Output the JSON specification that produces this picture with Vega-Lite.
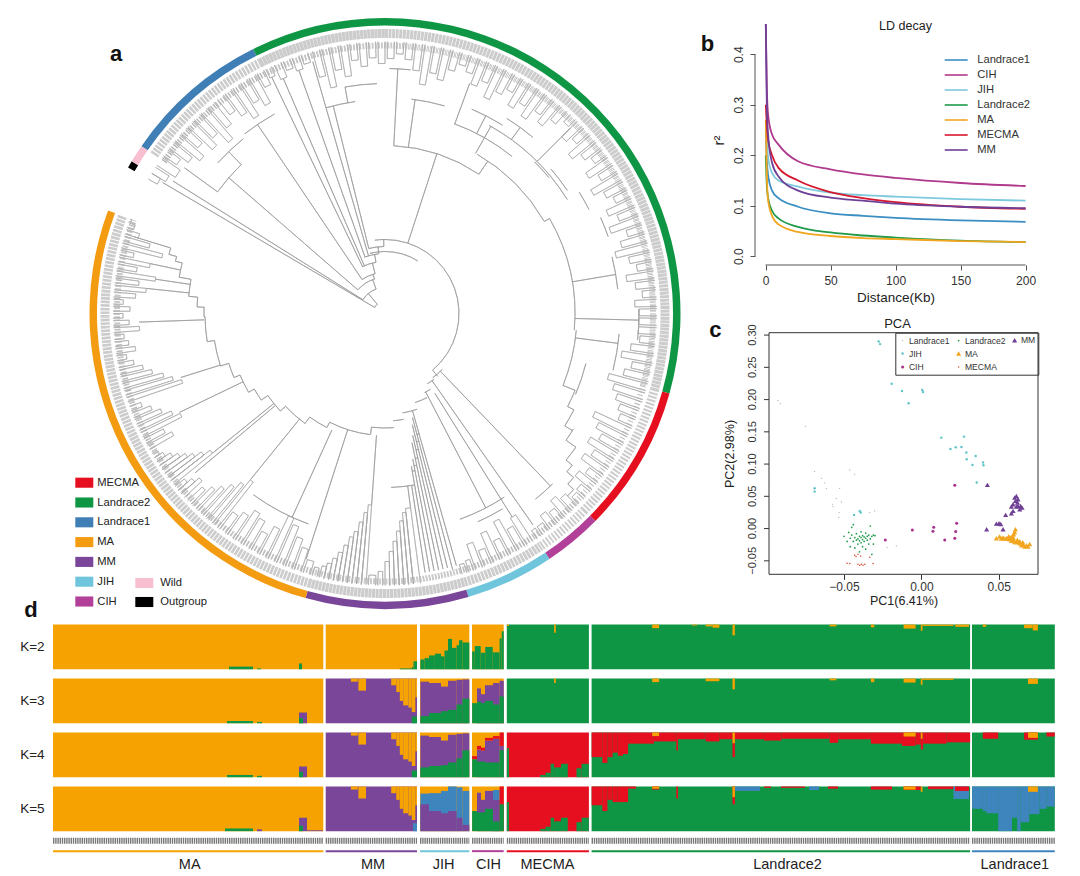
{"$schema":"https://vega.github.io/schema/vega-lite/v6.json","background":"white","padding":{"left":20,"top":15,"right":0,"bottom":0},"config":{"view":{"stroke":null},"font":"Liberation Sans"},
"datasets":{
"ring1":[{"a":304.5,"b":333.5,"g":"Landrace1"},{"a":333.5,"b":360,"g":"Landrace2"},{"a":0,"b":105.7,"g":"Landrace2"},{"a":105.7,"b":134.6,"g":"MECMA"},{"a":134.6,"b":146.2,"g":"CIH"},{"a":146.2,"b":163.6,"g":"JIH"},{"a":163.6,"b":195.6,"g":"MM"},{"a":195.6,"b":290.4,"g":"MA"}],
"ring2":[{"a":299.6,"b":301,"g":"Outgroup"},{"a":301,"b":304.5,"g":"Wild"}],
"pcaTicks":[{"v":-0.05,"t":"−0.05"},{"v":0,"t":"0.00"},{"v":0.05,"t":"0.05"},{"v":0.1,"t":"0.10"},{"v":0.15,"t":"0.15"},{"v":0.2,"t":"0.20"},{"v":0.25,"t":"0.25"},{"v":0.3,"t":"0.30"}],
"arcs":[{"a":300,"b":320,"r":12},{"a":302,"b":340,"r":26},{"a":311,"b":343,"r":36},{"a":326,"b":346,"r":41},{"a":334,"b":350,"r":52},{"a":340,"b":354,"r":60},{"a":346,"b":359,"r":67},{"a":352,"b":360,"r":74},{"a":0,"b":140,"r":74},{"a":346,"b":360,"r":62},{"a":0,"b":32,"r":62},{"a":3,"b":34,"r":168},{"a":30,"b":60,"r":184},{"a":20,"b":39,"r":202},{"a":29,"b":58,"r":215},{"a":60,"b":95,"r":190},{"a":95,"b":112,"r":192},{"a":112,"b":117,"r":205},{"a":117,"b":122,"r":212},{"a":121.5,"b":125,"r":221},{"a":125,"b":129,"r":233},{"a":129,"b":131,"r":241},{"a":131,"b":133,"r":250},{"a":133,"b":135,"r":258},{"a":104,"b":113,"r":207},{"a":76,"b":84,"r":234},{"a":66,"b":71,"r":236},{"a":58,"b":63,"r":229},{"a":49,"b":56,"r":220},{"a":44.6,"b":50.4,"r":213},{"a":89,"b":96,"r":254},{"a":95,"b":104,"r":235},{"a":306,"b":316,"r":207},{"a":312,"b":321,"r":225},{"a":322,"b":331,"r":228},{"a":344,"b":352,"r":214},{"a":350,"b":358,"r":230},{"a":1,"b":6,"r":245},{"a":7,"b":16,"r":216},{"a":23,"b":32,"r":222},{"a":32,"b":40,"r":230},{"a":135.5,"b":141,"r":239},{"a":147,"b":160,"r":219},{"a":149,"b":156,"r":228},{"a":134.3,"b":143.4,"r":80},{"a":143.4,"b":149,"r":82},{"a":149,"b":153.4,"r":88.4},{"a":153.4,"b":161.4,"r":94},{"a":161.4,"b":170,"r":101},{"a":170,"b":175.6,"r":107.5},{"a":175.6,"b":186.8,"r":114.5},{"a":164.2,"b":165.2,"r":125},{"a":165.2,"b":166.2,"r":132},{"a":166.2,"b":167.2,"r":140},{"a":167.2,"b":168.2,"r":148},{"a":168.2,"b":169.2,"r":155},{"a":169.2,"b":170.2,"r":160},{"a":170.2,"b":178,"r":174},{"a":187,"b":207,"r":122},{"a":207,"b":216,"r":128},{"a":216,"b":227,"r":136},{"a":227,"b":235,"r":143},{"a":235,"b":240,"r":151},{"a":240,"b":247,"r":157.5},{"a":247,"b":252.3,"r":164},{"a":252.3,"b":261,"r":172.7},{"a":261,"b":269,"r":180},{"a":269,"b":272,"r":181},{"a":272,"b":275,"r":188},{"a":275,"b":280,"r":197},{"a":280,"b":284,"r":209},{"a":284,"b":285.3,"r":216},{"a":285.3,"b":287,"r":224},{"a":200,"b":216,"r":224}],
"stems":[{"a":300.5,"r":12,"q":258},{"a":302,"r":26,"q":250},{"a":311,"r":36,"q":207},{"a":326,"r":41,"q":228},{"a":334.4,"r":52,"q":262},{"a":336.6,"r":52,"q":256},{"a":340.5,"r":60,"q":258},{"a":344,"r":60,"q":262},{"a":346,"r":67,"q":214},{"a":320,"r":12,"q":26},{"a":340,"r":26,"q":36},{"a":343,"r":36,"q":41},{"a":346,"r":41,"q":52},{"a":350,"r":52,"q":60},{"a":354,"r":60,"q":67},{"a":359,"r":67,"q":74},{"a":316,"r":207,"q":225},{"a":306,"r":207,"q":248},{"a":350,"r":214,"q":230},{"a":18,"r":74,"q":168},{"a":3,"r":168,"q":245},{"a":8,"r":168,"q":216},{"a":34,"r":168,"q":184},{"a":29.5,"r":184,"q":215},{"a":20.2,"r":202,"q":245},{"a":27,"r":202,"q":222},{"a":36,"r":215,"q":230},{"a":45,"r":215,"q":262},{"a":60,"r":184,"q":190},{"a":80.4,"r":190,"q":234},{"a":91.5,"r":190,"q":254},{"a":97.3,"r":192,"q":235},{"a":112,"r":192,"q":205},{"a":117,"r":205,"q":212},{"a":122,"r":212,"q":221},{"a":125,"r":221,"q":233},{"a":129,"r":233,"q":241},{"a":131,"r":241,"q":250},{"a":133,"r":250,"q":258},{"a":140,"r":74,"q":82},{"a":136.2,"r":80,"q":239},{"a":145,"r":82,"q":258},{"a":152.6,"r":88.4,"q":219},{"a":148,"r":94,"q":240},{"a":164.2,"r":101,"q":262},{"a":165.2,"r":107.5,"q":265},{"a":166.2,"r":114.5,"q":262},{"a":167.2,"r":125,"q":262},{"a":168.2,"r":132,"q":262},{"a":169.2,"r":148,"q":262},{"a":170.2,"r":155,"q":262},{"a":171.2,"r":174,"q":262},{"a":186.8,"r":114.5,"q":122},{"a":184,"r":122,"q":192},{"a":172.5,"r":174,"q":196},{"a":207,"r":122,"q":128},{"a":216,"r":128,"q":136},{"a":227,"r":136,"q":143},{"a":235,"r":143,"q":151},{"a":240,"r":151,"q":157.5},{"a":247,"r":157.5,"q":164},{"a":252.3,"r":164,"q":172.7},{"a":261,"r":172.7,"q":180},{"a":269,"r":180,"q":181},{"a":272,"r":181,"q":188},{"a":275,"r":188,"q":197},{"a":280,"r":197,"q":209},{"a":284,"r":209,"q":216},{"a":285.3,"r":216,"q":224},{"a":287,"r":224,"q":262},{"a":197.8,"r":122,"q":258},{"a":204.5,"r":128,"q":224},{"a":219,"r":136,"q":214},{"a":230,"r":143,"q":248},{"a":231,"r":143,"q":222},{"a":244.3,"r":157.5,"q":228},{"a":252.6,"r":172.7,"q":214},{"a":268,"r":181,"q":246},{"a":276,"r":197,"q":240},{"a":278.5,"r":197,"q":232},{"a":282,"r":209,"q":240}],
"forks":[{"a":299.6,"b":301,"r":262},{"a":301,"b":302.5,"r":256},{"a":303,"b":305,"r":250},{"a":305.5,"b":307,"r":256},{"a":307.5,"b":309,"r":248},{"a":309.5,"b":311,"r":240},{"a":311.5,"b":313,"r":250},{"a":313.5,"b":315,"r":238},{"a":315.5,"b":317,"r":246},{"a":317.5,"b":319,"r":232},{"a":319.5,"b":321,"r":244},{"a":322,"b":323.5,"r":252},{"a":324,"b":325.5,"r":244},{"a":326,"b":327.5,"r":235},{"a":328,"b":329.5,"r":248},{"a":330,"b":331.5,"r":240},{"a":332,"b":333.5,"r":256},{"a":334,"b":335.2,"r":262},{"a":336,"b":337.5,"r":256},{"a":338,"b":339.5,"r":262},{"a":340,"b":341.5,"r":258},{"a":342,"b":343.5,"r":262},{"a":344.5,"b":346,"r":245},{"a":346.5,"b":348,"r":232},{"a":348.5,"b":350,"r":248},{"a":350.5,"b":352,"r":240},{"a":352.5,"b":354,"r":255},{"a":354.5,"b":356,"r":248},{"a":356.5,"b":358,"r":256},{"a":358.5,"b":360,"r":250},{"a":0.5,"b":2,"r":255},{"a":2.5,"b":4,"r":260},{"a":4.5,"b":6,"r":255},{"a":6.5,"b":8,"r":245},{"a":8.5,"b":10,"r":232},{"a":10.5,"b":12,"r":245},{"a":12.5,"b":14,"r":240},{"a":14.5,"b":16,"r":252},{"a":16.5,"b":18,"r":260},{"a":18.5,"b":20,"r":255},{"a":20.5,"b":22,"r":245},{"a":22.5,"b":24,"r":252},{"a":24.5,"b":26,"r":238},{"a":26.5,"b":28,"r":248},{"a":28.5,"b":30,"r":255},{"a":30.5,"b":32,"r":242},{"a":32.5,"b":34,"r":250},{"a":34.5,"b":36,"r":240},{"a":36.5,"b":38,"r":252},{"a":38.5,"b":40,"r":245},{"a":40.5,"b":42,"r":255},{"a":43,"b":44.5,"r":262},{"a":45,"b":46.5,"r":250},{"a":47,"b":48.5,"r":256},{"a":49,"b":50.5,"r":243},{"a":51,"b":52.5,"r":252},{"a":53,"b":54.5,"r":258},{"a":55,"b":56.5,"r":245},{"a":57,"b":58.5,"r":254},{"a":59,"b":60.5,"r":240},{"a":61,"b":62.5,"r":250},{"a":63,"b":64.5,"r":256},{"a":65,"b":66.5,"r":244},{"a":67,"b":68.5,"r":252},{"a":69,"b":70.5,"r":240},{"a":71,"b":72.5,"r":255},{"a":73,"b":74.5,"r":246},{"a":75,"b":76.5,"r":238},{"a":77,"b":78.5,"r":250},{"a":79,"b":80.5,"r":256},{"a":81,"b":82.5,"r":244},{"a":83,"b":84.5,"r":252},{"a":85,"b":86.5,"r":258},{"a":87,"b":88.5,"r":250},{"a":89,"b":90.5,"r":254},{"a":91,"b":92.5,"r":254},{"a":93,"b":94.5,"r":254},{"a":95,"b":96.5,"r":256},{"a":97,"b":98.5,"r":248},{"a":99,"b":100.5,"r":240},{"a":101,"b":102.5,"r":252},{"a":103,"b":104.5,"r":246},{"a":105,"b":106.5,"r":232},{"a":107,"b":108.5,"r":240},{"a":109,"b":110.5,"r":246},{"a":111,"b":112.5,"r":252},{"a":113,"b":114.5,"r":256},{"a":115,"b":116.5,"r":232},{"a":117,"b":118.5,"r":240},{"a":119,"b":120.5,"r":248},{"a":121,"b":122.5,"r":240},{"a":123,"b":124.5,"r":250},{"a":125,"b":126.5,"r":244},{"a":127,"b":128.5,"r":256},{"a":129,"b":130.5,"r":250},{"a":131,"b":132.5,"r":260},{"a":133,"b":134.5,"r":262},{"a":135,"b":136.5,"r":255},{"a":137,"b":138.5,"r":250},{"a":139,"b":140.5,"r":258},{"a":141,"b":142.5,"r":255},{"a":143,"b":144.5,"r":262},{"a":145,"b":146,"r":262},{"a":147,"b":148.5,"r":240},{"a":149,"b":150.5,"r":248},{"a":151,"b":152.5,"r":235},{"a":153,"b":154.5,"r":252},{"a":155,"b":156.5,"r":240},{"a":157,"b":158.5,"r":255},{"a":159,"b":160.5,"r":245},{"a":161,"b":162,"r":260},{"a":162.5,"b":163.5,"r":262},{"a":172.5,"b":174,"r":196},{"a":174,"b":175,"r":200},{"a":175,"b":176,"r":208},{"a":176,"b":177,"r":218},{"a":177,"b":178,"r":228},{"a":178,"b":179,"r":238},{"a":179,"b":180,"r":248},{"a":180.5,"b":181.5,"r":258},{"a":182,"b":183.5,"r":262},{"a":184,"b":185,"r":192},{"a":185,"b":186,"r":200},{"a":186,"b":187,"r":210},{"a":187,"b":188,"r":220},{"a":188,"b":189,"r":226},{"a":189,"b":190,"r":235},{"a":190,"b":191,"r":243},{"a":191,"b":192,"r":250},{"a":192,"b":193,"r":256},{"a":193,"b":194,"r":260},{"a":194.5,"b":195.5,"r":263},{"a":196,"b":197.5,"r":258},{"a":198,"b":199.5,"r":248},{"a":200,"b":201.5,"r":240},{"a":202,"b":203.5,"r":230},{"a":204,"b":205.5,"r":224},{"a":206,"b":207.5,"r":240},{"a":208,"b":209.5,"r":250},{"a":210,"b":211.5,"r":240},{"a":212,"b":213.5,"r":236},{"a":214,"b":215.5,"r":244},{"a":216,"b":217.5,"r":250},{"a":218,"b":219,"r":214},{"a":219.5,"b":220.5,"r":222},{"a":221,"b":222,"r":230},{"a":222.5,"b":223.5,"r":238},{"a":224,"b":225,"r":245},{"a":225.5,"b":226.5,"r":252},{"a":227.5,"b":228.5,"r":248},{"a":228.5,"b":229.5,"r":254},{"a":229.5,"b":230.5,"r":260},{"a":231,"b":232,"r":222},{"a":232,"b":233,"r":230},{"a":233,"b":234,"r":238},{"a":234,"b":235,"r":244},{"a":235,"b":236,"r":250},{"a":236,"b":237,"r":256},{"a":237,"b":238,"r":262},{"a":238,"b":239,"r":266},{"a":240,"b":241,"r":244},{"a":241.5,"b":242.5,"r":250},{"a":243,"b":244,"r":228},{"a":244.5,"b":245.5,"r":235},{"a":246,"b":247,"r":244},{"a":247.5,"b":248.5,"r":252},{"a":249,"b":250,"r":260},{"a":251,"b":252,"r":214},{"a":252.5,"b":253.5,"r":222},{"a":254,"b":255,"r":230},{"a":255.5,"b":256.5,"r":240},{"a":257,"b":258,"r":248},{"a":258.5,"b":259.5,"r":256},{"a":260,"b":261,"r":262},{"a":261.5,"b":262.5,"r":252},{"a":263,"b":264,"r":258},{"a":264.5,"b":265.5,"r":262},{"a":266,"b":267,"r":246},{"a":267.5,"b":268.5,"r":256},{"a":269,"b":270,"r":262},{"a":270.5,"b":271.5,"r":255},{"a":272,"b":273,"r":262},{"a":273.5,"b":274.5,"r":250},{"a":275,"b":276,"r":240},{"a":276.5,"b":277.5,"r":248},{"a":278,"b":279,"r":232},{"a":279.5,"b":280.5,"r":252},{"a":281,"b":282,"r":240},{"a":282.5,"b":283.5,"r":258},{"a":284,"b":285,"r":230},{"a":285.5,"b":286.5,"r":245},{"a":287,"b":288,"r":258},{"a":288.5,"b":289.5,"r":265},{"a":289.8,"b":290.3,"r":270}],
"ld":[{"g":"Landrace1","x":0.2,"y":0.25},{"g":"Landrace1","x":1,"y":0.19},{"g":"Landrace1","x":2,"y":0.16},{"g":"Landrace1","x":5,"y":0.13},{"g":"Landrace1","x":10,"y":0.115},{"g":"Landrace1","x":25,"y":0.098},{"g":"Landrace1","x":50,"y":0.085},{"g":"Landrace1","x":75,"y":0.08},{"g":"Landrace1","x":100,"y":0.076},{"g":"Landrace1","x":150,"y":0.071},{"g":"Landrace1","x":200,"y":0.068},{"g":"CIH","x":0.2,"y":0.46},{"g":"CIH","x":1,"y":0.33},{"g":"CIH","x":2,"y":0.28},{"g":"CIH","x":5,"y":0.241},{"g":"CIH","x":10,"y":0.221},{"g":"CIH","x":25,"y":0.188},{"g":"CIH","x":50,"y":0.172},{"g":"CIH","x":75,"y":0.162},{"g":"CIH","x":100,"y":0.155},{"g":"CIH","x":150,"y":0.145},{"g":"CIH","x":200,"y":0.139},{"g":"JIH","x":0.2,"y":0.27},{"g":"JIH","x":1,"y":0.23},{"g":"JIH","x":2,"y":0.195},{"g":"JIH","x":5,"y":0.165},{"g":"JIH","x":10,"y":0.15},{"g":"JIH","x":25,"y":0.138},{"g":"JIH","x":50,"y":0.126},{"g":"JIH","x":75,"y":0.121},{"g":"JIH","x":100,"y":0.118},{"g":"JIH","x":150,"y":0.113},{"g":"JIH","x":200,"y":0.11},{"g":"Landrace2","x":0.2,"y":0.2},{"g":"Landrace2","x":1,"y":0.14},{"g":"Landrace2","x":2,"y":0.115},{"g":"Landrace2","x":5,"y":0.09},{"g":"Landrace2","x":10,"y":0.075},{"g":"Landrace2","x":25,"y":0.058},{"g":"Landrace2","x":50,"y":0.047},{"g":"Landrace2","x":75,"y":0.041},{"g":"Landrace2","x":100,"y":0.037},{"g":"Landrace2","x":150,"y":0.031},{"g":"Landrace2","x":200,"y":0.028},{"g":"MA","x":0.2,"y":0.27},{"g":"MA","x":1,"y":0.16},{"g":"MA","x":2,"y":0.11},{"g":"MA","x":5,"y":0.08},{"g":"MA","x":10,"y":0.063},{"g":"MA","x":25,"y":0.048},{"g":"MA","x":50,"y":0.04},{"g":"MA","x":75,"y":0.036},{"g":"MA","x":100,"y":0.034},{"g":"MA","x":150,"y":0.03},{"g":"MA","x":200,"y":0.028},{"g":"MECMA","x":0.2,"y":0.3},{"g":"MECMA","x":1,"y":0.26},{"g":"MECMA","x":2,"y":0.23},{"g":"MECMA","x":5,"y":0.2},{"g":"MECMA","x":10,"y":0.175},{"g":"MECMA","x":25,"y":0.15},{"g":"MECMA","x":50,"y":0.127},{"g":"MECMA","x":75,"y":0.115},{"g":"MECMA","x":100,"y":0.107},{"g":"MECMA","x":150,"y":0.098},{"g":"MECMA","x":200,"y":0.094},{"g":"MM","x":0.2,"y":0.46},{"g":"MM","x":1,"y":0.3},{"g":"MM","x":2,"y":0.24},{"g":"MM","x":5,"y":0.185},{"g":"MM","x":10,"y":0.158},{"g":"MM","x":25,"y":0.13},{"g":"MM","x":50,"y":0.116},{"g":"MM","x":75,"y":0.11},{"g":"MM","x":100,"y":0.104},{"g":"MM","x":150,"y":0.098},{"g":"MM","x":200,"y":0.095}],
"pca":[{"g":"JIH","x":-0.0276,"y":0.29},{"g":"JIH","x":-0.0267,"y":0.286},{"g":"JIH","x":-0.0192,"y":0.2247},{"g":"JIH","x":-0.0125,"y":0.2133},{"g":"JIH","x":-0.0082,"y":0.1942},{"g":"JIH","x":0.0006,"y":0.2149},{"g":"JIH","x":0.0011,"y":0.2118},{"g":"JIH","x":0.0129,"y":0.141},{"g":"JIH","x":0.0188,"y":0.1235},{"g":"JIH","x":0.0222,"y":0.126},{"g":"JIH","x":0.0259,"y":0.1266},{"g":"JIH","x":0.0276,"y":0.1426},{"g":"JIH","x":0.0291,"y":0.1178},{"g":"JIH","x":0.0293,"y":0.1074},{"g":"JIH","x":0.033,"y":0.0987},{"g":"JIH","x":0.0351,"y":0.1126},{"g":"JIH","x":0.0399,"y":0.1023},{"g":"JIH","x":0.0401,"y":0.0981},{"g":"JIH","x":0.0358,"y":0.0713},{"g":"JIH","x":-0.069,"y":0.0625},{"g":"JIH","x":-0.069,"y":0.0573},{"g":"JIH","x":-0.0399,"y":0.0274},{"g":"JIH","x":-0.0392,"y":0.0248},{"g":"JIH","x":-0.0435,"y":0.0212},
{"g":"CIH","x":0.0216,"y":0.0671},{"g":"CIH","x":0.0228,"y":0.0083},{"g":"CIH","x":0.0222,"y":-0.0046},{"g":"CIH","x":0.0216,"y":-0.015},{"g":"CIH","x":0.0151,"y":-0.0176},{"g":"CIH","x":0.008,"y":0.0021},{"g":"CIH","x":0.0075,"y":-0.0041},{"g":"CIH","x":-0.0058,"y":-0.0021},{"g":"CIH","x":-0.0233,"y":-0.0176},
{"g":"Landrace1","x":-0.0927,"y":0.1983},{"g":"Landrace1","x":-0.0912,"y":0.1937},{"g":"Landrace1","x":-0.075,"y":0.1586},{"g":"Landrace1","x":-0.069,"y":0.0883},{"g":"Landrace1","x":-0.0647,"y":0.078},{"g":"Landrace1","x":-0.0625,"y":0.071},{"g":"Landrace1","x":-0.0614,"y":0.062},{"g":"Landrace1","x":-0.0528,"y":0.0625},{"g":"Landrace1","x":-0.0463,"y":0.0909},{"g":"Landrace1","x":-0.0431,"y":0.0842},{"g":"Landrace1","x":-0.055,"y":0.0465},{"g":"Landrace1","x":-0.0575,"y":0.0377},{"g":"Landrace1","x":-0.0571,"y":0.0341},{"g":"Landrace1","x":-0.0517,"y":0.0413},{"g":"Landrace1","x":-0.0532,"y":0.0248},{"g":"Landrace1","x":-0.0534,"y":0.017},{"g":"Landrace1","x":-0.0334,"y":0.0248},{"g":"Landrace1","x":-0.0302,"y":0.0274},{"g":"Landrace1","x":-0.0222,"y":-0.0294},{"g":"Landrace1","x":-0.0162,"y":-0.0269},
{"g":"Landrace2","x":-0.05,"y":-0.012},{"g":"Landrace2","x":-0.048,"y":-0.02},{"g":"Landrace2","x":-0.047,"y":-0.006},{"g":"Landrace2","x":-0.046,"y":-0.028},{"g":"Landrace2","x":-0.046,"y":-0.015},{"g":"Landrace2","x":-0.045,"y":0.002},{"g":"Landrace2","x":-0.045,"y":-0.01},{"g":"Landrace2","x":-0.044,"y":-0.02},{"g":"Landrace2","x":-0.044,"y":0.006},{"g":"Landrace2","x":-0.043,"y":-0.014},{"g":"Landrace2","x":-0.043,"y":-0.03},{"g":"Landrace2","x":-0.042,"y":-0.018},{"g":"Landrace2","x":-0.042,"y":-0.008},{"g":"Landrace2","x":-0.041,"y":-0.016},{"g":"Landrace2","x":-0.041,"y":-0.024},{"g":"Landrace2","x":-0.04,"y":-0.012},{"g":"Landrace2","x":-0.04,"y":-0.019},{"g":"Landrace2","x":-0.04,"y":-0.036},{"g":"Landrace2","x":-0.039,"y":-0.014},{"g":"Landrace2","x":-0.039,"y":-0.022},{"g":"Landrace2","x":-0.039,"y":-0.005},{"g":"Landrace2","x":-0.038,"y":-0.017},{"g":"Landrace2","x":-0.038,"y":-0.011},{"g":"Landrace2","x":-0.038,"y":-0.028},{"g":"Landrace2","x":-0.037,"y":-0.013},{"g":"Landrace2","x":-0.037,"y":-0.02},{"g":"Landrace2","x":-0.036,"y":-0.015},{"g":"Landrace2","x":-0.036,"y":-0.007},{"g":"Landrace2","x":-0.036,"y":-0.032},{"g":"Landrace2","x":-0.035,"y":-0.018},{"g":"Landrace2","x":-0.035,"y":-0.012},{"g":"Landrace2","x":-0.034,"y":-0.024},{"g":"Landrace2","x":-0.034,"y":-0.01},{"g":"Landrace2","x":-0.033,"y":-0.016},{"g":"Landrace2","x":-0.033,"y":0.004},{"g":"Landrace2","x":-0.032,"y":-0.012},{"g":"Landrace2","x":-0.032,"y":-0.04},{"g":"Landrace2","x":-0.031,"y":-0.01},{"g":"Landrace2","x":-0.031,"y":-0.024},{"g":"Landrace2","x":-0.03,"y":-0.011},
{"g":"MA","x":0.0485,"y":-0.015},{"g":"MA","x":0.0506,"y":-0.0124},{"g":"MA","x":0.0528,"y":-0.0139},{"g":"MA","x":0.055,"y":-0.015},{"g":"MA","x":0.0571,"y":-0.0165},{"g":"MA","x":0.0593,"y":-0.0176},{"g":"MA","x":0.0614,"y":-0.0207},{"g":"MA","x":0.0636,"y":-0.0227},{"g":"MA","x":0.0657,"y":-0.0243},{"g":"MA","x":0.0679,"y":-0.0258},{"g":"MA","x":0.07,"y":-0.0238},{"g":"MA","x":0.069,"y":-0.0279},{"g":"MA","x":0.0668,"y":-0.0279},{"g":"MA","x":0.0647,"y":-0.0258},{"g":"MA","x":0.0625,"y":-0.0207},{"g":"MA","x":0.0603,"y":-0.0207},{"g":"MA","x":0.0582,"y":-0.0191},{"g":"MA","x":0.056,"y":-0.0155},{"g":"MA","x":0.0539,"y":-0.0155},{"g":"MA","x":0.0517,"y":-0.0155},{"g":"MA","x":0.0608,"y":-0.001},{"g":"MA","x":0.0603,"y":-0.0052},{"g":"MA","x":0.0597,"y":-0.0088},{"g":"MA","x":0.0588,"y":-0.0114},{"g":"MA","x":0.0578,"y":-0.0139},{"g":"MA","x":0.062,"y":-0.0175},{"g":"MA","x":0.0655,"y":-0.021},{"g":"MA","x":0.0565,"y":-0.012},{"g":"MA","x":0.0635,"y":-0.0195},{"g":"MA","x":0.0595,"y":-0.0145},
{"g":"MECMA","x":-0.048,"y":-0.0537},{"g":"MECMA","x":-0.0463,"y":-0.0542},{"g":"MECMA","x":-0.041,"y":-0.0553},{"g":"MECMA","x":-0.0399,"y":-0.0568},{"g":"MECMA","x":-0.0388,"y":-0.0553},{"g":"MECMA","x":-0.0377,"y":-0.0568},{"g":"MECMA","x":-0.0366,"y":-0.0553},{"g":"MECMA","x":-0.0312,"y":-0.0542},{"g":"MECMA","x":-0.0431,"y":-0.0413},{"g":"MECMA","x":-0.041,"y":-0.0398},{"g":"MECMA","x":-0.0392,"y":-0.0424},{"g":"MECMA","x":-0.0422,"y":-0.0434},{"g":"MECMA","x":-0.0334,"y":-0.0444},
{"g":"MM","x":0.0427,"y":0.0677},{"g":"MM","x":0.0422,"y":-0.001},{"g":"MM","x":0.0485,"y":0.0077},{"g":"MM","x":0.0502,"y":0.0082},{"g":"MM","x":0.0513,"y":0.0072},{"g":"MM","x":0.0528,"y":-0.001},{"g":"MM","x":0.0545,"y":0.0212},{"g":"MM","x":0.0582,"y":0.0238},{"g":"MM","x":0.0593,"y":0.0274},{"g":"MM","x":0.0603,"y":0.048},{"g":"MM","x":0.0614,"y":0.0506},{"g":"MM","x":0.0608,"y":0.0429},{"g":"MM","x":0.0593,"y":0.0377},{"g":"MM","x":0.0582,"y":0.0341},{"g":"MM","x":0.0614,"y":0.0341},{"g":"MM","x":0.0625,"y":0.0351},{"g":"MM","x":0.0642,"y":0.0351},{"g":"MM","x":0.0651,"y":0.0325},{"g":"MM","x":0.0636,"y":0.03},{"g":"MM","x":0.0621,"y":0.0403},{"g":"MM","x":0.0625,"y":0.0455}],
"bars":[{"k":"K=2","s":0,"e":270.3,"c":"MA","l":0,"h":1},{"k":"K=2","s":272.7,"e":364,"c":"MA","l":0,"h":1},{"k":"K=2","s":367,"e":416.3,"c":"MA","l":0,"h":1},{"k":"K=2","s":419,"e":450.7,"c":"MA","l":0,"h":1},{"k":"K=2","s":453.8,"e":535.9,"c":"L2","l":0,"h":1},{"k":"K=2","s":538.6,"e":917.1,"c":"L2","l":0,"h":1},{"k":"K=2","s":919,"e":1001.8,"c":"L2","l":0,"h":1},
{"k":"K=2","s":176,"e":200,"c":"L2","l":0,"h":0.06},{"k":"K=2","s":204,"e":208,"c":"L2","l":0,"h":0.02},{"k":"K=2","s":246,"e":249,"c":"L2","l":0,"h":0.13},{"k":"K=2","s":346.8,"e":358.8,"c":"L2","l":0,"h":0.02},{"k":"K=2","s":358.8,"e":360.5,"c":"L2","l":0,"h":0.05},{"k":"K=2","s":360.5,"e":364,"c":"L2","l":0,"h":0.18},
{"k":"K=2","s":367.4,"e":371.6,"c":"L2","l":0,"h":0.22},{"k":"K=2","s":371.6,"e":376,"c":"L2","l":0,"h":0.25},{"k":"K=2","s":376,"e":381.9,"c":"L2","l":0,"h":0.31},{"k":"K=2","s":381.9,"e":388,"c":"L2","l":0,"h":0.35},{"k":"K=2","s":388,"e":391.5,"c":"L2","l":0,"h":0.29},{"k":"K=2","s":391.5,"e":395,"c":"L2","l":0,"h":0.42},{"k":"K=2","s":395,"e":399,"c":"L2","l":0,"h":0.68},{"k":"K=2","s":399,"e":403.6,"c":"L2","l":0,"h":0.48},{"k":"K=2","s":403.6,"e":406,"c":"L2","l":0,"h":0.54},{"k":"K=2","s":406,"e":409.4,"c":"L2","l":0,"h":0.65},{"k":"K=2","s":409.4,"e":416.3,"c":"L2","l":0,"h":0.6},
{"k":"K=2","s":419.1,"e":421.8,"c":"L2","l":0,"h":0.4},{"k":"K=2","s":421.8,"e":427.7,"c":"L2","l":0,"h":0.52},{"k":"K=2","s":427.7,"e":432.2,"c":"L2","l":0,"h":0.37},{"k":"K=2","s":432.2,"e":439.7,"c":"L2","l":0,"h":0.5},{"k":"K=2","s":439.7,"e":446.6,"c":"L2","l":0,"h":0.38},{"k":"K=2","s":446.6,"e":448.7,"c":"L2","l":0,"h":0.69},{"k":"K=2","s":448.7,"e":450.8,"c":"L2","l":0,"h":0.85},
{"k":"K=2","s":453.8,"e":456,"c":"MA","l":0.97,"h":1},{"k":"K=2","s":501.1,"e":502.8,"c":"MA","l":0.82,"h":1},{"k":"K=2","s":599.2,"e":606.1,"c":"MA","l":0.92,"h":1},{"k":"K=2","s":638.8,"e":644,"c":"MA","l":0.98,"h":1},{"k":"K=2","s":652.6,"e":659.5,"c":"MA","l":0.96,"h":1},{"k":"K=2","s":659.5,"e":666.4,"c":"MA","l":0.93,"h":1},{"k":"K=2","s":679.5,"e":681.9,"c":"MA","l":0.76,"h":1},{"k":"K=2","s":776.6,"e":783.4,"c":"MA","l":0.96,"h":1},{"k":"K=2","s":817.9,"e":821.3,"c":"MA","l":0.94,"h":1},{"k":"K=2","s":850.6,"e":862.6,"c":"MA","l":0.91,"h":1},{"k":"K=2","s":867.8,"e":869.5,"c":"MA","l":0.86,"h":1},{"k":"K=2","s":869.5,"e":900.5,"c":"MA","l":0.97,"h":1},{"k":"K=2","s":902.2,"e":916,"c":"MA","l":0.95,"h":1},{"k":"K=2","s":929.8,"e":933.2,"c":"MA","l":0.95,"h":1},{"k":"K=2","s":971.1,"e":979.7,"c":"MA","l":0.92,"h":1},{"k":"K=2","s":979.7,"e":984.9,"c":"MA","l":0.87,"h":1},
{"k":"K=3","s":0,"e":270.3,"c":"MA","l":0,"h":1},{"k":"K=3","s":272.7,"e":364,"c":"MM","l":0,"h":1},{"k":"K=3","s":367,"e":416.3,"c":"MA","l":0,"h":1},{"k":"K=3","s":419,"e":450.7,"c":"MA","l":0,"h":1},{"k":"K=3","s":453.8,"e":535.9,"c":"L2","l":0,"h":1},{"k":"K=3","s":538.6,"e":917.1,"c":"L2","l":0,"h":1},{"k":"K=3","s":919,"e":1001.8,"c":"L2","l":0,"h":1},
{"k":"K=3","s":174,"e":200,"c":"L2","l":0,"h":0.05},{"k":"K=3","s":204,"e":209,"c":"L2","l":0,"h":0.03},{"k":"K=3","s":246,"e":254,"c":"MM","l":0,"h":0.24},{"k":"K=3","s":246,"e":250,"c":"L2","l":0,"h":0.12},
{"k":"K=3","s":297.9,"e":304.8,"c":"MA","l":0.93,"h":1},{"k":"K=3","s":305.4,"e":313,"c":"MA","l":0.73,"h":1},{"k":"K=3","s":338.2,"e":343.3,"c":"MA","l":0.85,"h":1},{"k":"K=3","s":343.3,"e":346.8,"c":"MA","l":0.7,"h":1},{"k":"K=3","s":346.8,"e":350.2,"c":"MA","l":0.5,"h":1},{"k":"K=3","s":350.2,"e":355.4,"c":"MA","l":0.4,"h":1},{"k":"K=3","s":355.4,"e":358.8,"c":"MA","l":0.35,"h":1},{"k":"K=3","s":358.8,"e":362.3,"c":"MA","l":0.25,"h":1},{"k":"K=3","s":362.3,"e":364,"c":"MA","l":0.58,"h":1},{"k":"K=3","s":358.8,"e":364,"c":"L2","l":0,"h":0.15},
{"k":"K=3","s":367.4,"e":376,"c":"MM","l":0,"h":0.93},{"k":"K=3","s":376,"e":388,"c":"MM","l":0,"h":0.9},{"k":"K=3","s":388,"e":395,"c":"MM","l":0,"h":0.82},{"k":"K=3","s":395,"e":403.6,"c":"MM","l":0,"h":0.95},{"k":"K=3","s":403.6,"e":409.4,"c":"MM","l":0,"h":0.97},{"k":"K=3","s":409.4,"e":416.3,"c":"MM","l":0,"h":0.98},{"k":"K=3","s":367.4,"e":376,"c":"L2","l":0,"h":0.16},{"k":"K=3","s":376,"e":388,"c":"L2","l":0,"h":0.23},{"k":"K=3","s":388,"e":395,"c":"L2","l":0,"h":0.27},{"k":"K=3","s":395,"e":403.6,"c":"L2","l":0,"h":0.3},{"k":"K=3","s":403.6,"e":409.4,"c":"L2","l":0,"h":0.42},{"k":"K=3","s":409.4,"e":416.3,"c":"L2","l":0,"h":0.55},
{"k":"K=3","s":424,"e":428,"c":"MM","l":0,"h":0.78},{"k":"K=3","s":428,"e":432,"c":"MM","l":0,"h":0.65},{"k":"K=3","s":432,"e":440,"c":"MM","l":0,"h":0.85},{"k":"K=3","s":440,"e":446.6,"c":"MM","l":0,"h":0.9},{"k":"K=3","s":446.6,"e":450.8,"c":"MM","l":0,"h":0.95},{"k":"K=3","s":419.1,"e":424,"c":"L2","l":0,"h":0.45},{"k":"K=3","s":424,"e":428,"c":"L2","l":0,"h":0.48},{"k":"K=3","s":428,"e":432,"c":"L2","l":0,"h":0.45},{"k":"K=3","s":432,"e":440,"c":"L2","l":0,"h":0.5},{"k":"K=3","s":440,"e":446.6,"c":"L2","l":0,"h":0.42},{"k":"K=3","s":446.6,"e":450.8,"c":"L2","l":0,"h":0.6},
{"k":"K=3","s":501.1,"e":502.8,"c":"MA","l":0.9,"h":1},{"k":"K=3","s":599.2,"e":606.1,"c":"MA","l":0.92,"h":1},{"k":"K=3","s":652.6,"e":666.4,"c":"MA","l":0.94,"h":1},{"k":"K=3","s":679.5,"e":681.9,"c":"MA","l":0.76,"h":1},{"k":"K=3","s":776.6,"e":783.4,"c":"MA","l":0.96,"h":1},{"k":"K=3","s":817.9,"e":821.3,"c":"MA","l":0.92,"h":1},{"k":"K=3","s":850.6,"e":862.6,"c":"MA","l":0.91,"h":1},{"k":"K=3","s":867.8,"e":869.5,"c":"MA","l":0.86,"h":1},{"k":"K=3","s":869.5,"e":900.5,"c":"MA","l":0.97,"h":1},{"k":"K=3","s":975,"e":984.9,"c":"MA","l":0.88,"h":1},
{"k":"K=4","s":0,"e":270.3,"c":"MA","l":0,"h":1},{"k":"K=4","s":272.7,"e":364,"c":"MM","l":0,"h":1},{"k":"K=4","s":367,"e":416.3,"c":"MA","l":0,"h":1},{"k":"K=4","s":419,"e":450.7,"c":"MA","l":0,"h":1},{"k":"K=4","s":453.8,"e":535.9,"c":"MECMA","l":0,"h":1},{"k":"K=4","s":538.6,"e":917.1,"c":"L2","l":0,"h":1},{"k":"K=4","s":919,"e":1001.8,"c":"L2","l":0,"h":1},
{"k":"K=4","s":174,"e":200,"c":"L2","l":0,"h":0.05},{"k":"K=4","s":204,"e":209,"c":"L2","l":0,"h":0.03},{"k":"K=4","s":246,"e":254,"c":"MM","l":0,"h":0.24},{"k":"K=4","s":246,"e":250,"c":"L2","l":0,"h":0.12},
{"k":"K=4","s":297.9,"e":304.8,"c":"MA","l":0.93,"h":1},{"k":"K=4","s":305.4,"e":313,"c":"MA","l":0.73,"h":1},{"k":"K=4","s":338.2,"e":343.3,"c":"MA","l":0.85,"h":1},{"k":"K=4","s":343.3,"e":346.8,"c":"MA","l":0.7,"h":1},{"k":"K=4","s":346.8,"e":350.2,"c":"MA","l":0.5,"h":1},{"k":"K=4","s":350.2,"e":355.4,"c":"MA","l":0.4,"h":1},{"k":"K=4","s":355.4,"e":358.8,"c":"MA","l":0.35,"h":1},{"k":"K=4","s":358.8,"e":362.3,"c":"MA","l":0.25,"h":1},{"k":"K=4","s":362.3,"e":364,"c":"MA","l":0.58,"h":1},{"k":"K=4","s":358.8,"e":364,"c":"L2","l":0,"h":0.15},
{"k":"K=4","s":367.4,"e":376,"c":"MM","l":0,"h":0.93},{"k":"K=4","s":376,"e":388,"c":"MM","l":0,"h":0.9},{"k":"K=4","s":388,"e":395,"c":"MM","l":0,"h":0.82},{"k":"K=4","s":395,"e":403.6,"c":"MM","l":0,"h":0.95},{"k":"K=4","s":403.6,"e":409.4,"c":"MM","l":0,"h":0.97},{"k":"K=4","s":409.4,"e":416.3,"c":"MM","l":0,"h":0.98},{"k":"K=4","s":367.4,"e":376,"c":"L2","l":0,"h":0.22},{"k":"K=4","s":376,"e":388,"c":"L2","l":0,"h":0.25},{"k":"K=4","s":388,"e":395,"c":"L2","l":0,"h":0.27},{"k":"K=4","s":395,"e":403.6,"c":"L2","l":0,"h":0.33},{"k":"K=4","s":403.6,"e":409.4,"c":"L2","l":0,"h":0.42},{"k":"K=4","s":409.4,"e":416.3,"c":"L2","l":0,"h":0.6},
{"k":"K=4","s":419.1,"e":424,"c":"MECMA","l":0.4,"h":0.47},{"k":"K=4","s":424,"e":428,"c":"MM","l":0,"h":0.62},{"k":"K=4","s":428,"e":432,"c":"MM","l":0,"h":0.6},{"k":"K=4","s":432,"e":440,"c":"MM","l":0,"h":0.82},{"k":"K=4","s":440,"e":446.6,"c":"MM","l":0,"h":0.86},{"k":"K=4","s":446.6,"e":450.8,"c":"MM","l":0,"h":0.7},{"k":"K=4","s":424,"e":428,"c":"MECMA","l":0.62,"h":0.7},{"k":"K=4","s":428,"e":432,"c":"MECMA","l":0.6,"h":0.66},{"k":"K=4","s":432,"e":440,"c":"MECMA","l":0.82,"h":0.88},{"k":"K=4","s":440,"e":446.6,"c":"MECMA","l":0.86,"h":0.92},{"k":"K=4","s":446.6,"e":450.8,"c":"MECMA","l":0.7,"h":1},{"k":"K=4","s":419.1,"e":424,"c":"L2","l":0,"h":0.4},{"k":"K=4","s":424,"e":432,"c":"L2","l":0,"h":0.35},{"k":"K=4","s":432,"e":446.6,"c":"L2","l":0,"h":0.33},{"k":"K=4","s":446.6,"e":450.8,"c":"L2","l":0,"h":0.6},
{"k":"K=4","s":453.8,"e":456,"c":"L2","l":0,"h":0.65},{"k":"K=4","s":487.3,"e":492.5,"c":"L2","l":0,"h":0.05},{"k":"K=4","s":492.5,"e":497.6,"c":"L2","l":0,"h":0.1},{"k":"K=4","s":497.6,"e":501.1,"c":"L2","l":0,"h":0.3},{"k":"K=4","s":501.1,"e":508,"c":"L2","l":0,"h":0.22},{"k":"K=4","s":508,"e":514.8,"c":"L2","l":0,"h":0.3},{"k":"K=4","s":523.5,"e":528.6,"c":"L2","l":0,"h":0.2},{"k":"K=4","s":528.6,"e":535.9,"c":"L2","l":0,"h":0.3},
{"k":"K=4","s":538.6,"e":549.3,"c":"MECMA","l":0.45,"h":1},{"k":"K=4","s":549.3,"e":554.4,"c":"MECMA","l":0.32,"h":1},{"k":"K=4","s":554.4,"e":559.6,"c":"MECMA","l":0.45,"h":1},{"k":"K=4","s":559.6,"e":564.8,"c":"MECMA","l":0.55,"h":1},{"k":"K=4","s":564.8,"e":570,"c":"MECMA","l":0.48,"h":1},{"k":"K=4","s":570,"e":575.1,"c":"MECMA","l":0.52,"h":1},{"k":"K=4","s":575.1,"e":600.9,"c":"MECMA","l":0.75,"h":1},{"k":"K=4","s":600.9,"e":623.3,"c":"MECMA","l":0.8,"h":1},{"k":"K=4","s":623.3,"e":625,"c":"MECMA","l":0.6,"h":1},{"k":"K=4","s":625,"e":652.6,"c":"MECMA","l":0.85,"h":1},{"k":"K=4","s":652.6,"e":666.4,"c":"MECMA","l":0.8,"h":1},{"k":"K=4","s":666.4,"e":679.5,"c":"MECMA","l":0.85,"h":1},{"k":"K=4","s":679.5,"e":681.9,"c":"MECMA","l":0.45,"h":1},{"k":"K=4","s":681.9,"e":711.1,"c":"MECMA","l":0.85,"h":1},{"k":"K=4","s":711.1,"e":728.4,"c":"MECMA","l":0.82,"h":1},{"k":"K=4","s":728.4,"e":776.6,"c":"MECMA","l":0.86,"h":1},{"k":"K=4","s":776.6,"e":785.2,"c":"MECMA","l":0.77,"h":1},{"k":"K=4","s":785.2,"e":817.9,"c":"MECMA","l":0.85,"h":1},{"k":"K=4","s":817.9,"e":848.9,"c":"MECMA","l":0.75,"h":1},{"k":"K=4","s":848.9,"e":862.6,"c":"MECMA","l":0.7,"h":1},{"k":"K=4","s":862.6,"e":867.8,"c":"MECMA","l":0.73,"h":1},{"k":"K=4","s":867.8,"e":870.2,"c":"MECMA","l":0.62,"h":1},{"k":"K=4","s":870.2,"e":893.6,"c":"MECMA","l":0.75,"h":1},{"k":"K=4","s":893.6,"e":917.1,"c":"MECMA","l":0.78,"h":1},
{"k":"K=4","s":599.2,"e":606.1,"c":"MA","l":0.92,"h":1},{"k":"K=4","s":679.5,"e":681.9,"c":"MA","l":0.76,"h":1},{"k":"K=4","s":850.6,"e":862.6,"c":"MA","l":0.91,"h":1},{"k":"K=4","s":867.8,"e":869.5,"c":"MA","l":0.86,"h":1},
{"k":"K=4","s":929.8,"e":945.2,"c":"MECMA","l":0.86,"h":1},{"k":"K=4","s":971.1,"e":984.9,"c":"MECMA","l":0.84,"h":1},{"k":"K=4","s":993.4,"e":1001.8,"c":"MECMA","l":0.91,"h":1},{"k":"K=4","s":975,"e":984.9,"c":"MA","l":0.88,"h":1},
{"k":"K=5","s":0,"e":270.3,"c":"MA","l":0,"h":1},{"k":"K=5","s":272.7,"e":364,"c":"MM","l":0,"h":1},{"k":"K=5","s":367,"e":416.3,"c":"MA","l":0,"h":1},{"k":"K=5","s":419,"e":450.7,"c":"MA","l":0,"h":1},{"k":"K=5","s":453.8,"e":535.9,"c":"MECMA","l":0,"h":1},{"k":"K=5","s":538.6,"e":917.1,"c":"L2","l":0,"h":1},{"k":"K=5","s":919,"e":1001.8,"c":"L2","l":0,"h":1},
{"k":"K=5","s":172,"e":200,"c":"L2","l":0,"h":0.06},{"k":"K=5","s":204,"e":209,"c":"MM","l":0,"h":0.04},{"k":"K=5","s":246,"e":254,"c":"MM","l":0,"h":0.3},{"k":"K=5","s":246,"e":250,"c":"L2","l":0,"h":0.12},{"k":"K=5","s":254,"e":270,"c":"MM","l":0,"h":0.02},
{"k":"K=5","s":297.9,"e":304.8,"c":"MA","l":0.93,"h":1},{"k":"K=5","s":305.4,"e":313,"c":"MA","l":0.73,"h":1},{"k":"K=5","s":338.2,"e":343.3,"c":"MA","l":0.85,"h":1},{"k":"K=5","s":343.3,"e":346.8,"c":"MA","l":0.7,"h":1},{"k":"K=5","s":346.8,"e":350.2,"c":"MA","l":0.5,"h":1},{"k":"K=5","s":350.2,"e":355.4,"c":"MA","l":0.4,"h":1},{"k":"K=5","s":355.4,"e":358.8,"c":"MA","l":0.35,"h":1},{"k":"K=5","s":358.8,"e":362.3,"c":"MA","l":0.25,"h":1},{"k":"K=5","s":362.3,"e":364,"c":"MA","l":0.58,"h":1},{"k":"K=5","s":360,"e":364,"c":"L1","l":0,"h":0.18},
{"k":"K=5","s":367.4,"e":376,"c":"L1","l":0,"h":0.84},{"k":"K=5","s":376,"e":388,"c":"L1","l":0,"h":0.85},{"k":"K=5","s":388,"e":395,"c":"L1","l":0,"h":0.9},{"k":"K=5","s":395,"e":403.6,"c":"L1","l":0,"h":1},{"k":"K=5","s":403.6,"e":409.4,"c":"L1","l":0,"h":0.98},{"k":"K=5","s":409.4,"e":416.3,"c":"L1","l":0,"h":0.9},{"k":"K=5","s":367.4,"e":376,"c":"MM","l":0,"h":0.6},{"k":"K=5","s":376,"e":388,"c":"MM","l":0,"h":0.45},{"k":"K=5","s":388,"e":395,"c":"MM","l":0,"h":0.4},{"k":"K=5","s":395,"e":403.6,"c":"MM","l":0,"h":0.45},{"k":"K=5","s":403.6,"e":409.4,"c":"MM","l":0,"h":0.3},{"k":"K=5","s":409.4,"e":416.3,"c":"MM","l":0,"h":0.14},
{"k":"K=5","s":424,"e":428,"c":"MM","l":0,"h":0.86},{"k":"K=5","s":428,"e":432,"c":"MM","l":0,"h":0.7},{"k":"K=5","s":432,"e":440,"c":"MM","l":0,"h":0.9},{"k":"K=5","s":440,"e":446.6,"c":"L1","l":0,"h":0.92},{"k":"K=5","s":440,"e":446.6,"c":"MM","l":0,"h":0.7},{"k":"K=5","s":446.6,"e":450.8,"c":"MECMA","l":0,"h":1},{"k":"K=5","s":419.1,"e":424,"c":"L2","l":0,"h":0.45},{"k":"K=5","s":424,"e":432,"c":"L2","l":0,"h":0.42},{"k":"K=5","s":432,"e":440,"c":"L2","l":0,"h":0.5},{"k":"K=5","s":440,"e":446.6,"c":"L2","l":0,"h":0.22},{"k":"K=5","s":446.6,"e":450.8,"c":"L2","l":0,"h":0.6},
{"k":"K=5","s":453.8,"e":456,"c":"L2","l":0,"h":0.65},{"k":"K=5","s":487.3,"e":492.5,"c":"L2","l":0,"h":0.05},{"k":"K=5","s":492.5,"e":497.6,"c":"L2","l":0,"h":0.1},{"k":"K=5","s":497.6,"e":501.1,"c":"L2","l":0,"h":0.3},{"k":"K=5","s":501.1,"e":508,"c":"L2","l":0,"h":0.22},{"k":"K=5","s":508,"e":514.8,"c":"L2","l":0,"h":0.3},{"k":"K=5","s":523.5,"e":528.6,"c":"L2","l":0,"h":0.2},{"k":"K=5","s":528.6,"e":535.9,"c":"L2","l":0,"h":0.3},
{"k":"K=5","s":538.6,"e":549.3,"c":"MECMA","l":0.58,"h":1},{"k":"K=5","s":549.3,"e":554.4,"c":"MECMA","l":0.45,"h":1},{"k":"K=5","s":554.4,"e":559.6,"c":"MECMA","l":0.7,"h":1},{"k":"K=5","s":559.6,"e":564.8,"c":"MECMA","l":0.65,"h":1},{"k":"K=5","s":564.8,"e":570,"c":"MECMA","l":0.65,"h":1},{"k":"K=5","s":570,"e":575.1,"c":"MECMA","l":0.65,"h":1},{"k":"K=5","s":575.1,"e":583,"c":"MECMA","l":0.95,"h":1},{"k":"K=5","s":599.2,"e":606.1,"c":"MECMA","l":0.93,"h":1},{"k":"K=5","s":623.3,"e":625,"c":"MECMA","l":0.73,"h":1},{"k":"K=5","s":679.5,"e":681.9,"c":"MECMA","l":0.6,"h":1},{"k":"K=5","s":681.9,"e":707,"c":"L1","l":0.9,"h":1},{"k":"K=5","s":711,"e":718,"c":"MECMA","l":0.97,"h":1},{"k":"K=5","s":728,"e":752,"c":"MECMA","l":0.97,"h":1},{"k":"K=5","s":756,"e":766,"c":"L1","l":0.92,"h":1},{"k":"K=5","s":775,"e":785,"c":"MECMA","l":0.95,"h":1},{"k":"K=5","s":817.9,"e":839,"c":"MECMA","l":0.93,"h":1},{"k":"K=5","s":850.6,"e":867.8,"c":"MECMA","l":0.92,"h":1},{"k":"K=5","s":875,"e":900.5,"c":"MECMA","l":0.94,"h":1},{"k":"K=5","s":900.5,"e":916,"c":"L1","l":0.72,"h":1},{"k":"K=5","s":902,"e":916,"c":"MECMA","l":0.9,"h":1},
{"k":"K=5","s":599.2,"e":606.1,"c":"MA","l":0.95,"h":1},{"k":"K=5","s":679.5,"e":681.9,"c":"MA","l":0.76,"h":1},{"k":"K=5","s":850.6,"e":862.6,"c":"MA","l":0.93,"h":1},{"k":"K=5","s":867.8,"e":869.5,"c":"MA","l":0.88,"h":1},
{"k":"K=5","s":919.1,"e":929.8,"c":"L1","l":0.5,"h":1},{"k":"K=5","s":929.8,"e":933.2,"c":"L1","l":0.45,"h":1},{"k":"K=5","s":933.2,"e":945.2,"c":"L1","l":0.4,"h":1},{"k":"K=5","s":945.2,"e":959,"c":"L1","l":0,"h":1},{"k":"K=5","s":959,"e":964.2,"c":"L1","l":0.3,"h":1},{"k":"K=5","s":964.2,"e":967.6,"c":"L1","l":0,"h":1},{"k":"K=5","s":967.6,"e":976.2,"c":"L1","l":0.2,"h":1},{"k":"K=5","s":976.2,"e":986.5,"c":"L1","l":0.38,"h":1},{"k":"K=5","s":986.5,"e":993.4,"c":"L1","l":0.5,"h":1},{"k":"K=5","s":993.4,"e":1001.8,"c":"L1","l":0.55,"h":1},{"k":"K=5","s":975,"e":984.9,"c":"MA","l":0.88,"h":1}],
"groups":[{"g":"MA","s":0,"e":270.3,"m":136.7},{"g":"MM","s":272.7,"e":364,"m":320},{"g":"JIH","s":367,"e":416.3,"m":390.5},{"g":"CIH","s":419,"e":450.7,"m":435.6},{"g":"MECMA","s":453.8,"e":535.9,"m":494.5},{"g":"Landrace2","s":538.6,"e":917.1,"m":734.5},{"g":"Landrace1","s":919,"e":1001.8,"m":961.8}]
},
"spacing":-13.4,
"resolve":{"scale":{"color":"independent","shape":"independent","size":"independent"}},
"vconcat":[
{"resolve":{"scale":{"color":"independent","shape":"independent","size":"independent"}},"hconcat":[
{"width":664,"height":597,
"title":{"text":"a","anchor":"start","fontSize":22,"fontWeight":"bold","color":"#111","offset":-51,"dx":57},
"resolve":{"scale":{"color":"independent"}},
"encoding":{"theta":{"field":"a","type":"quantitative","scale":{"domain":[0,360],"range":[0,6.28319]}}},
"layer":[
{"data":{"name":"arcs"},"mark":{"type":"arc","filled":false,"stroke":"#9a9a9a","strokeWidth":0.7},"encoding":{"theta2":{"field":"b"},"radius":{"field":"r","type":"quantitative","scale":{"type":"linear","domain":[0,295.5],"range":[0,295.5]}},"radius2":{"field":"r"}}},
{"data":{"name":"stems"},"mark":{"type":"arc","filled":false,"stroke":"#9a9a9a","strokeWidth":0.7},"encoding":{"theta2":{"field":"a"},"radius":{"field":"r","type":"quantitative","scale":{"type":"linear","domain":[0,295.5],"range":[0,295.5]}},"radius2":{"field":"q"}}},
{"data":{"name":"forks"},"mark":{"type":"arc","filled":false,"stroke":"#a5a5a5","strokeWidth":0.6},"encoding":{"theta2":{"field":"b"},"radius":{"field":"r","type":"quantitative","scale":{"type":"linear","domain":[0,295.5],"range":[0,295.5]}},"radius2":{"field":"r"}}},
{"data":{"name":"forks"},"mark":{"type":"arc","filled":false,"stroke":"#a5a5a5","strokeWidth":0.6},"encoding":{"theta2":{"field":"a"},"radius":{"field":"r","type":"quantitative","scale":{"type":"linear","domain":[0,295.5],"range":[0,295.5]}},"radius2":{"value":272}}},
{"data":{"name":"forks"},"mark":{"type":"arc","filled":false,"stroke":"#a5a5a5","strokeWidth":0.6},"encoding":{"theta":{"field":"b","type":"quantitative","scale":{"domain":[0,360],"range":[0,6.28319]}},"theta2":{"field":"b"},"radius":{"field":"r","type":"quantitative","scale":{"type":"linear","domain":[0,295.5],"range":[0,295.5]}},"radius2":{"value":272}}},
{"data":{"name":"ring1"},"mark":{"type":"arc","filled":false,"stroke":"#b5b5b5","strokeWidth":6,"strokeDash":[0.7,2.4],"radius":268,"radius2":268},"encoding":{"theta2":{"field":"b"}}},
{"data":{"name":"ring1"},"mark":{"type":"arc","filled":false,"stroke":"#9a9a9a","strokeWidth":9,"strokeDash":[1.8,1.8],"opacity":0.5,"radius":280,"radius2":280},"encoding":{"theta2":{"field":"b"}}},
{"data":{"name":"ring1"},"mark":{"type":"arc","radius":295.5,"radius2":288},"encoding":{"theta2":{"field":"b"},"color":{"field":"g","type":"nominal","scale":{"domain":["MECMA","Landrace2","Landrace1","MA","MM","JIH","CIH"],"range":["#e60f1f","#0f9644","#3f7fb5","#f39c12","#7a4699","#6fc6dc","#b23f98"]},"legend":{"title":null,"orient":"none","legendX":22.3,"legendY":458.7,"symbolType":"M-1,-.56H1V.56H-1Z","symbolSize":324,"symbolStrokeWidth":0,"labelFontSize":11.2,"labelColor":"#222","labelOffset":4,"rowPadding":4.8,"padding":0}}}},
{"data":{"name":"ring2"},"mark":{"type":"arc","radius":295.5,"radius2":288},"encoding":{"theta2":{"field":"b"},"color":{"field":"g","type":"nominal","scale":{"domain":["Wild","Outgroup"],"range":["#f7bfd0","#000000"]},"legend":{"title":null,"orient":"none","legendX":82.3,"legendY":559,"symbolType":"M-1,-.56H1V.56H-1Z","symbolSize":324,"symbolStrokeWidth":0,"labelFontSize":11.2,"labelColor":"#222","labelOffset":7,"rowPadding":4,"padding":0}}}}
]},
{"resolve":{"scale":{"color":"independent","shape":"independent","size":"independent"}},"vconcat":[
{"width":281,"height":250,
"title":{"text":"LD decay","fontSize":12.5,"fontWeight":"normal","color":"#222","offset":-17,"dx":10},
"layer":[
{"data":{"name":"ld"},"mark":{"type":"line","interpolate":"monotone","strokeWidth":1.8},"encoding":{
"x":{"field":"x","type":"quantitative","scale":{"domain":[-8.1,208],"nice":false,"zero":false},"axis":{"values":[0,50,100,150,200],"title":"Distance(Kb)","domain":false,"grid":false,"tickColor":"#555","tickSize":5,"labelFontSize":12,"labelColor":"#333","titleFontSize":13.5,"titleFontWeight":"normal","titleColor":"#222","titlePadding":4,"labelPadding":5}},
"y":{"field":"y","type":"quantitative","scale":{"domain":[-0.0174,0.4777],"nice":false,"zero":false},"axis":{"values":[0,0.1,0.2,0.3,0.4],"format":".1f","title":"r²","domain":false,"grid":false,"tickColor":"#555","tickSize":5,"labelFontSize":12,"labelColor":"#333","labelAngle":-90,"labelAlign":"center","labelBaseline":"bottom","labelPadding":5,"titleFontSize":15,"titleFontWeight":"normal","titleColor":"#222","titlePadding":6}},
"color":{"field":"g","type":"nominal","scale":{"domain":["Landrace1","CIH","JIH","Landrace2","MA","MECMA","MM"],"range":["#3a8ec2","#b03a8c","#7ec9dd","#1f9a4a","#f2a51e","#d7172d","#6f3f95"]},"legend":{"title":null,"orient":"none","legendX":193.2,"legendY":37,"symbolType":"M-1.64,0H1.64","symbolSize":196,"symbolStrokeWidth":1.6,"labelFontSize":11.2,"labelColor":"#333","labelOffset":13,"rowPadding":1,"padding":0}}}},
{"data":{"values":[{"z":1}]},"mark":{"type":"rule","color":"#555"},"encoding":{"x":{"datum":0},"x2":{"datum":200},"y":{"datum":-0.0174}}},
{"data":{"values":[{"z":1}]},"mark":{"type":"rule","color":"#555"},"encoding":{"x":{"datum":-8.1},"y":{"datum":0},"y2":{"datum":0.4}}},
{"data":{"values":[{"z":1}]},"mark":{"type":"text","text":"b","align":"left","baseline":"alphabetic","fontSize":22,"fontWeight":"bold","color":"#111"},"encoding":{"x":{"datum":-49.8},"y":{"datum":0.4065}}}
]},
{"resolve":{"scale":{"color":"independent","shape":"independent","size":"independent"}},"hconcat":[
{"width":13.4,"height":241.6,"data":{"values":[{"z":1}]},"mark":{"type":"rect","opacity":0}},
{"width":269,"height":241.6,
"title":{"text":"PCA","fontSize":13,"fontWeight":"normal","color":"#222","offset":-12,"dx":-6},
"layer":[
{"data":{"name":"pca"},"mark":{"type":"point","filled":true,"opacity":1},"encoding":{
"x":{"field":"x","type":"quantitative","scale":{"domain":[-0.0985,0.0754],"nice":false,"zero":false},"axis":{"values":[-0.05,0,0.05],"format":".2f","title":"PC1(6.41%)","grid":false,"domain":false,"tickColor":"#333","tickSize":5,"labelFontSize":12,"labelColor":"#333","titleFontSize":12.5,"titleFontWeight":"normal","titleColor":"#222","labelPadding":2,"titlePadding":2}},
"y":{"field":"y","type":"quantitative","scale":{"domain":[-0.0709,0.3037],"nice":false,"zero":false},"axis":{"labels":false,"ticks":false,"title":"PC2(2.98%)","grid":false,"domain":false,"titleFontSize":12.5,"titleFontWeight":"normal","titleColor":"#222","titlePadding":33}},
"color":{"field":"g","type":"nominal","scale":{"domain":["Landrace1","Landrace2","MM","JIH","MA"," ","CIH","MECMA"],"range":["#b0a6a6","#1f9a4a","#6f3f95","#5fc4c8","#f2a51e","#ffffff","#a8308c","#d9502e"]},"legend":{"title":null,"orient":"none","legendX":126.3,"legendY":0,"columns":3,"direction":"horizontal","strokeColor":"#333","padding":3,"labelFontSize":8.6,"labelColor":"#333","rowPadding":2.5,"columnPadding":2,"labelOffset":2,"symbolOpacity":1}},
"shape":{"field":"g","type":"nominal","scale":{"domain":["Landrace1","Landrace2","MM","JIH","MA"," ","CIH","MECMA"],"range":["circle","circle","triangle-up","circle","triangle-up","circle","circle","circle"]}},
"size":{"field":"g","type":"nominal","scale":{"type":"ordinal","domain":["Landrace1","Landrace2","MM","JIH","MA"," ","CIH","MECMA"],"range":[1.5,3,26,6,26,0,9,2.5]}}}},
{"data":{"values":[{"z":1}]},"mark":{"type":"rect","filled":false,"stroke":"#333","strokeWidth":1},"encoding":{"x":{"datum":-0.0985},"x2":{"datum":0.0754},"y":{"datum":-0.0709},"y2":{"datum":0.3037}}},
{"data":{"name":"pcaTicks"},"mark":{"type":"rule","color":"#333"},"encoding":{"x":{"datum":-0.0985},"x2":{"datum":-0.1017},"y":{"field":"v","type":"quantitative"}}},
{"data":{"name":"pcaTicks"},"mark":{"type":"text","angle":270,"align":"center","baseline":"middle","fontSize":11,"color":"#333"},"encoding":{"x":{"datum":-0.1088},"y":{"field":"v","type":"quantitative"},"text":{"field":"t"}}},
{"data":{"values":[{"z":1}]},"mark":{"type":"text","text":"c","align":"left","baseline":"alphabetic","fontSize":22,"fontWeight":"bold","color":"#111"},"encoding":{"x":{"datum":-0.1371},"y":{"datum":0.2968}}}
]}
],"spacing":0,"bounds":"flush"}
],"spacing":67.7,"bounds":"flush"}
],"spacing":38,"bounds":"flush"},
{"resolve":{"scale":{"color":"independent","shape":"independent","size":"independent"}},"vconcat":[
{"data":{"name":"bars"},"title":{"text":"d","anchor":"start","fontSize":22,"fontWeight":"bold","color":"#111","offset":3,"dx":4},
"facet":{"row":{"field":"k","type":"nominal","title":null,"header":{"labelAngle":0,"labelOrient":"left","labelFontSize":13.5,"labelColor":"#222","labelPadding":-16}}},
"spacing":8.95,
"spec":{"width":1002,"height":44.7,"mark":{"type":"rect"},"encoding":{
"x":{"field":"s","type":"quantitative","scale":{"domain":[0,1002],"nice":false,"zero":false},"axis":null},"x2":{"field":"e"},
"y":{"field":"l","type":"quantitative","scale":{"domain":[0,1],"nice":false},"axis":null},"y2":{"field":"h"},
"color":{"field":"c","type":"nominal","legend":null,"scale":{"domain":["MA","L2","MM","MECMA","L1"],"range":["#f6a200","#0f9644","#7a4699","#e60f1f","#3f85bd"]}}}}},
{"width":1002,"height":42,"data":{"name":"groups"},
"encoding":{"x":{"field":"s","type":"quantitative","scale":{"domain":[0,1002],"nice":false,"zero":false},"axis":null}},
"layer":[
{"mark":{"type":"rule","color":"#777","strokeWidth":6,"strokeDash":[1.4,0.8]},"encoding":{"x2":{"field":"e"},"y":{"datum":0.82,"scale":{"domain":[0,1]},"axis":null}}},
{"mark":{"type":"rule","strokeWidth":2},"encoding":{"x2":{"field":"e"},"y":{"datum":0.57,"scale":{"domain":[0,1]},"axis":null},"color":{"field":"g","type":"nominal","legend":null,"scale":{"domain":["MA","MM","JIH","CIH","MECMA","Landrace2","Landrace1"],"range":["#f6a200","#7a4699","#6fc6dc","#b23f98","#e60f1f","#0f9644","#3f85bd"]}}}},
{"mark":{"type":"text","fontSize":14.5,"color":"#222"},"encoding":{"x":{"field":"m","type":"quantitative"},"y":{"datum":0.24,"scale":{"domain":[0,1]},"axis":null},"text":{"field":"g"}}}
]}
],"spacing":1.5}
]}
